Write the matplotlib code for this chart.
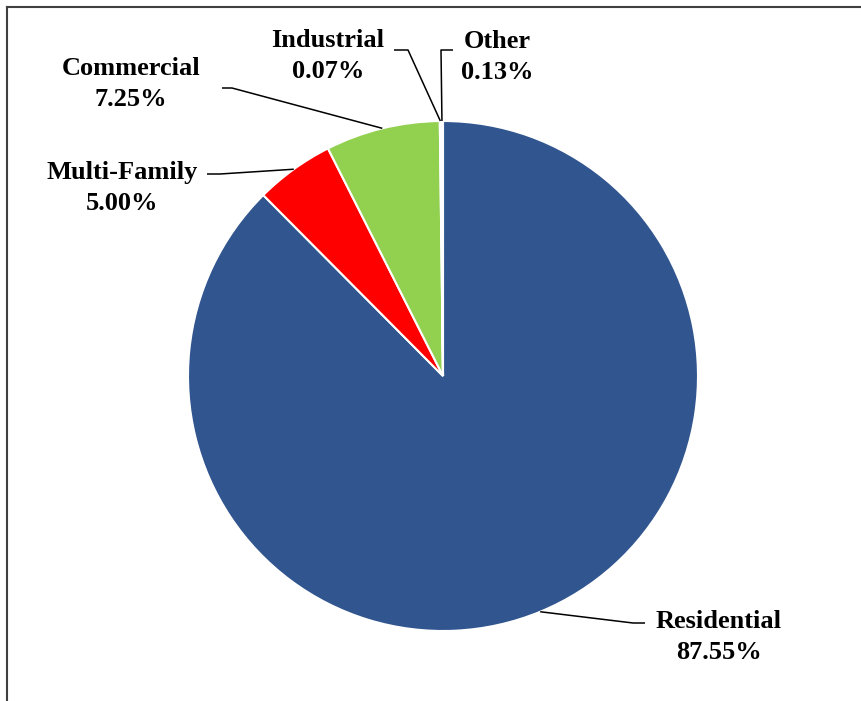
import numpy as np
import matplotlib.pyplot as plt

# customer class share of total
categories = ["Residential", "Multi-Family", "Commercial", "Industrial", "Other"]
shares = [87.55, 5.00, 7.25, 0.07, 0.13]
colors = ["#30558F", "#FF0000", "#92D050", "#7F7F7F", "#BDD7EE"]

W, H = 861, 701
fig = plt.figure(figsize=(W / 100, H / 100), dpi=100)
ax = fig.add_axes([0, 0, 1, 1])

cx, cy, r = 443, H - 376, 255
wedges, _ = ax.pie(shares, colors=colors, startangle=90, counterclock=False,
                   center=(cx, cy), radius=r, frame=True,
                   wedgeprops=dict(edgecolor="white", linewidth=1.5))
ax.set_xlim(0, W)
ax.set_ylim(0, H)
ax.set_aspect("equal")
ax.axis("off")

# label block centre and leader elbow / end (px from top-left)
label_pos = {
    "Residential": ((719, 637), (633, 623), (645, 623)),
    "Multi-Family": ((122, 188), (220, 174), (207, 174)),
    "Commercial": ((131, 84), (232, 88), (222, 88)),
    "Industrial": ((328, 56), (408, 50), (394, 50)),
    "Other": ((497, 57), (441, 50), (453, 50)),
}

for w, name, val in zip(wedges, categories, shares):
    (tx, ty), (ex, ey), (hx, hy) = label_pos[name]
    # leader starts at the middle of the wedge's outer arc
    ang = np.deg2rad((w.theta1 + w.theta2) / 2)
    px, py = cx + r * np.cos(ang), cy + r * np.sin(ang)
    ax.plot([px, ex, hx], [py, H - ey, H - hy], color="black", lw=1.1,
            solid_capstyle="butt")
    ax.text(tx, H - ty, f"{name}\n{val:.2f}%", ha="center", va="center",
            family="Liberation Serif", fontweight="bold", fontsize=19,
            linespacing=1.45)

# chart frame (top and left edges)
ax.plot([7, W], [H - 7, H - 7], color="#404040", lw=1.5)
ax.plot([7, 7], [H - 7, 0], color="#404040", lw=1.5)

fig.savefig("out.png", dpi=100)
